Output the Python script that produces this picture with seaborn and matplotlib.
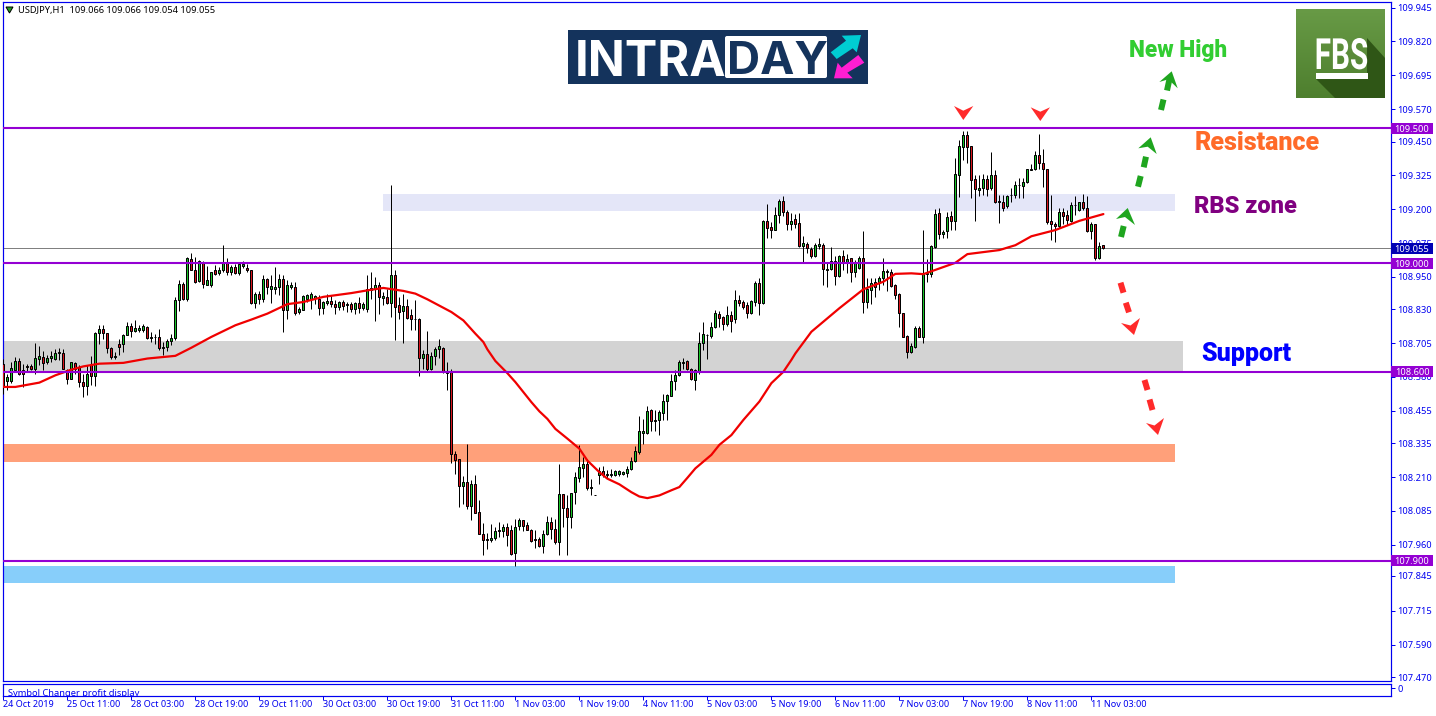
"""USDJPY H1 chart with support / resistance zones, redrawn with seaborn and matplotlib."""
import numpy as np
import pandas as pd
import matplotlib
matplotlib.use("Agg")
import matplotlib.pyplot as plt
from matplotlib.patches import Polygon, Rectangle, FancyBboxPatch
from matplotlib.patheffects import AbstractPathEffect
from matplotlib.transforms import Affine2D
import seaborn as sns

# --- Data ---
opens = [
    108.629,108.565,108.565,108.607,108.638,108.607,108.621,108.619,108.609,108.646,
    108.654,108.634,108.651,108.648,108.669,108.670,108.607,108.574,108.633,108.617,
    108.561,108.547,108.623,108.585,108.743,108.759,108.743,108.688,108.654,108.703,
    108.702,108.736,108.770,108.750,108.752,108.755,108.766,108.725,108.727,108.728,
    108.688,108.691,108.713,108.724,108.863,108.925,108.867,109.017,108.977,108.935,
    109.005,108.921,108.921,108.974,108.964,108.977,109.006,108.968,108.986,108.964,
    108.989,108.984,108.977,108.853,108.888,108.869,108.943,108.905,108.906,108.913,
    108.943,108.826,108.913,108.913,108.820,108.829,108.869,108.869,108.872,108.869,
    108.836,108.853,108.861,108.849,108.839,108.856,108.846,108.849,108.831,108.853,
    108.834,108.831,108.900,108.906,108.919,108.873,108.876,108.853,108.956,108.845,
    108.823,108.844,108.808,108.795,108.795,108.651,108.666,108.611,108.658,108.683,
    108.688,108.598,108.597,108.296,108.278,108.177,108.193,108.103,108.185,108.082,
    108.000,107.980,107.976,107.986,108.013,108.009,108.027,108.013,107.929,108.029,
    108.050,108.031,108.015,107.980,107.982,107.955,108.000,108.044,108.019,107.970,
    108.146,108.095,108.062,108.154,108.206,108.244,108.260,108.170,108.145,108.219,
    108.232,108.216,108.216,108.216,108.220,108.220,108.225,108.238,108.271,108.302,
    108.373,108.373,108.456,108.417,108.422,108.446,108.492,108.511,108.565,108.587,
    108.632,108.639,108.609,108.570,108.598,108.707,108.734,108.731,108.766,108.811,
    108.800,108.774,108.809,108.793,108.863,108.856,108.845,108.818,108.857,108.926,
    108.852,109.158,109.136,109.124,109.180,109.229,109.189,109.145,109.163,109.148,
    109.065,109.070,109.054,109.028,109.065,109.068,108.977,108.978,109.009,108.954,
    109.026,109.006,109.018,108.967,108.981,109.018,108.858,108.901,108.932,108.932,
    108.944,108.968,108.967,108.920,108.885,108.815,108.731,108.673,108.692,108.760,
    108.729,108.959,108.961,109.062,109.185,109.109,109.120,109.174,109.157,109.327,
    109.431,109.474,109.433,109.310,109.270,109.279,109.313,109.277,109.328,109.227,
    109.225,109.211,109.251,109.254,109.288,109.285,109.301,109.344,109.347,109.400,
    109.369,109.347,109.155,109.147,109.139,109.188,109.178,109.157,109.214,109.196,
    109.227,109.206,109.120,109.145,109.020,109.066,
]
highs = [
    108.648,108.592,108.635,108.654,108.650,108.629,108.626,108.629,108.706,108.693,
    108.676,108.660,108.676,108.685,108.688,108.685,108.611,108.635,108.635,108.623,
    108.592,108.623,108.658,108.746,108.773,108.771,108.743,108.691,108.672,108.722,
    108.738,108.783,108.780,108.789,108.771,108.777,108.767,108.746,108.740,108.759,
    108.709,108.722,108.738,108.876,108.937,108.931,109.023,109.039,109.023,109.011,
    109.009,108.989,108.968,108.993,108.986,109.067,109.021,108.993,108.999,108.999,
    109.009,108.999,108.977,108.894,108.898,108.956,108.947,108.956,108.986,108.962,
    108.956,108.937,108.931,108.931,108.839,108.882,108.888,108.894,108.882,108.882,
    108.861,108.888,108.882,108.863,108.861,108.863,108.856,108.857,108.857,108.876,
    108.857,108.956,108.968,108.950,108.931,108.894,108.906,109.290,108.977,108.876,
    108.888,108.869,108.832,108.863,108.799,108.678,108.750,108.672,108.691,108.722,
    108.691,108.635,108.610,108.308,108.278,108.212,108.331,108.198,108.219,108.124,
    108.041,108.004,108.035,108.025,108.043,108.035,108.040,108.031,108.056,108.059,
    108.052,108.043,108.019,108.013,107.988,108.013,108.066,108.062,108.056,108.257,
    108.146,108.142,108.152,108.228,108.327,108.284,108.278,108.204,108.145,108.247,
    108.249,108.235,108.241,108.235,108.237,108.231,108.249,108.284,108.323,108.434,
    108.425,108.472,108.462,108.456,108.456,108.518,108.518,108.592,108.604,108.644,
    108.651,108.641,108.612,108.609,108.747,108.782,108.738,108.784,108.827,108.825,
    108.805,108.842,108.825,108.900,108.883,108.864,108.858,108.864,108.935,108.945,
    109.160,109.219,109.154,109.207,109.237,109.249,109.197,109.185,109.182,109.187,
    109.101,109.080,109.062,109.074,109.092,109.074,109.002,109.059,109.027,109.031,
    109.049,109.034,109.018,109.012,109.027,109.119,108.945,108.945,108.947,108.953,
    109.018,108.978,108.978,108.924,108.889,108.815,108.735,108.704,108.768,108.768,
    109.123,109.015,109.068,109.200,109.203,109.123,109.190,109.193,109.390,109.455,
    109.490,109.490,109.433,109.326,109.326,109.332,109.326,109.412,109.344,109.252,
    109.252,109.252,109.277,109.305,109.317,109.317,109.350,109.366,109.415,109.477,
    109.421,109.347,109.254,109.153,109.203,109.206,109.196,109.227,109.248,109.227,
    109.258,109.248,109.151,109.147,109.079,109.066,
]
lows = [
    108.518,108.531,108.558,108.598,108.586,108.543,108.598,108.605,108.592,108.623,
    108.605,108.627,108.635,108.644,108.642,108.611,108.553,108.571,108.592,108.543,
    108.506,108.512,108.549,108.545,108.703,108.722,108.669,108.648,108.648,108.660,
    108.672,108.734,108.728,108.746,108.746,108.746,108.722,108.709,108.703,108.681,
    108.660,108.676,108.697,108.715,108.824,108.863,108.861,108.974,108.927,108.931,
    108.910,108.919,108.913,108.956,108.956,108.968,108.956,108.956,108.959,108.956,
    108.984,108.968,108.849,108.836,108.851,108.857,108.888,108.853,108.888,108.882,
    108.746,108.795,108.906,108.808,108.814,108.826,108.857,108.832,108.851,108.808,
    108.814,108.845,108.839,108.814,108.826,108.826,108.820,108.820,108.814,108.816,
    108.826,108.820,108.869,108.787,108.814,108.845,108.849,108.802,108.715,108.795,
    108.706,108.795,108.755,108.752,108.582,108.611,108.598,108.607,108.623,108.651,
    108.595,108.531,108.262,108.222,108.099,108.111,108.093,108.050,108.077,107.998,
    107.920,107.943,107.970,107.976,107.988,107.988,107.954,107.920,107.880,108.013,
    108.010,108.013,107.970,107.949,107.951,107.929,107.997,107.982,107.964,107.920,
    108.025,107.920,108.021,108.111,108.191,108.210,108.161,108.142,108.145,108.183,
    108.210,108.207,108.210,108.212,108.212,108.216,108.210,108.235,108.265,108.296,
    108.331,108.370,108.382,108.382,108.364,108.419,108.419,108.508,108.530,108.582,
    108.610,108.604,108.570,108.530,108.592,108.680,108.646,108.723,108.760,108.766,
    108.754,108.770,108.747,108.778,108.842,108.830,108.799,108.813,108.842,108.809,
    108.850,109.095,109.092,109.123,109.150,109.176,109.123,109.123,109.129,109.062,
    109.002,109.037,109.018,109.022,109.052,108.920,108.911,108.975,108.920,108.951,
    108.975,108.963,108.932,108.951,108.978,108.818,108.836,108.850,108.877,108.901,
    108.920,108.899,108.914,108.867,108.766,108.727,108.651,108.670,108.688,108.727,
    108.704,108.932,108.951,109.055,109.089,109.092,109.094,109.123,109.123,109.246,
    109.381,109.371,109.242,109.157,109.248,109.252,109.248,109.270,109.224,109.150,
    109.193,109.206,109.227,109.243,109.240,109.240,109.297,109.344,109.344,109.350,
    109.283,109.144,109.088,109.078,109.129,109.144,109.141,109.153,109.178,109.194,
    109.196,109.116,109.089,109.012,109.015,109.054,
]
closes = [
    108.543,108.580,108.614,108.639,108.590,108.592,108.617,108.609,108.651,108.656,
    108.632,108.651,108.656,108.670,108.671,108.611,108.574,108.634,108.611,108.561,
    108.545,108.592,108.585,108.744,108.759,108.743,108.687,108.653,108.659,108.691,
    108.735,108.770,108.750,108.761,108.762,108.767,108.725,108.728,108.729,108.688,
    108.691,108.712,108.725,108.863,108.925,108.869,109.019,108.977,108.930,109.009,
    108.925,108.937,108.968,108.962,108.977,109.005,108.968,108.986,108.964,108.996,
    108.996,108.977,108.853,108.888,108.869,108.941,108.913,108.915,108.913,108.941,
    108.829,108.919,108.919,108.816,108.832,108.878,108.882,108.888,108.879,108.836,
    108.856,108.861,108.849,108.839,108.856,108.841,108.849,108.831,108.853,108.834,
    108.849,108.906,108.910,108.919,108.876,108.879,108.853,108.958,108.839,108.820,
    108.841,108.799,108.794,108.793,108.651,108.666,108.608,108.659,108.685,108.693,
    108.598,108.596,108.294,108.274,108.177,108.193,108.103,108.185,108.078,107.999,
    107.976,107.977,107.986,108.012,108.010,108.027,107.994,107.924,108.027,108.052,
    108.029,108.013,107.972,107.977,107.955,108.000,108.044,108.019,107.970,108.146,
    108.095,108.062,108.152,108.209,108.246,108.260,108.169,108.173,108.145,108.231,
    108.219,108.222,108.222,108.231,108.231,108.228,108.241,108.271,108.305,108.379,
    108.379,108.453,108.417,108.420,108.449,108.492,108.515,108.566,108.589,108.636,
    108.636,108.610,108.573,108.607,108.704,108.738,108.736,108.766,108.815,108.799,
    108.774,108.808,108.788,108.863,108.852,108.839,108.818,108.860,108.926,108.852,
    109.158,109.132,109.124,109.177,109.229,109.189,109.147,109.158,109.145,109.065,
    109.074,109.055,109.028,109.068,109.070,108.978,108.979,109.009,108.954,109.026,
    109.006,109.017,108.967,109.000,109.018,108.858,108.904,108.929,108.911,108.944,
    108.972,108.970,108.916,108.883,108.818,108.729,108.673,108.694,108.760,108.729,
    108.961,108.963,109.064,109.182,109.108,109.116,109.172,109.157,109.330,109.433,
    109.474,109.431,109.307,109.273,109.280,109.313,109.275,109.328,109.227,109.230,
    109.205,109.249,109.253,109.291,109.291,109.301,109.347,109.347,109.400,109.369,
    109.347,109.153,109.145,109.139,109.188,109.174,109.160,109.214,109.217,109.225,
    109.205,109.119,109.144,109.020,109.063,109.055,
]

# red moving average: candle index and price
ma_index = [0, 3, 9, 13, 17, 20, 24, 30, 36, 43, 47, 52, 58, 62, 66, 71, 75, 80, 87, 91, 95,
            100, 103, 106, 112, 115, 118, 120, 121, 123, 126, 128, 130, 132, 134, 136, 138,
            141, 144, 146, 149, 151, 154, 157, 159, 161, 164, 167, 169, 171, 173, 177, 179,
            182, 185, 189, 192, 195, 197, 198, 202, 209, 215, 220, 223, 227, 230, 234, 238,
            241, 249, 253, 257, 263, 269, 275]
ma_price = [108.543, 108.543, 108.559, 108.586, 108.607, 108.619, 108.629, 108.632, 108.648,
            108.658, 108.688, 108.728, 108.771, 108.792, 108.814, 108.849, 108.857, 108.876,
            108.890, 108.900, 108.909, 108.898, 108.888, 108.867, 108.820, 108.789, 108.740,
            108.709, 108.682, 108.639, 108.594, 108.561, 108.524, 108.487, 108.453, 108.425,
            108.388, 108.352, 108.315, 108.271, 108.228, 108.204, 108.183, 108.154, 108.138,
            108.132, 108.142, 108.161, 108.173, 108.207, 108.242, 108.292, 108.329, 108.365,
            108.421, 108.489, 108.557, 108.599, 108.643, 108.667, 108.747, 108.834, 108.904,
            108.932, 108.961, 108.963, 108.960, 108.981, 109.002, 109.034, 109.049, 109.067,
            109.100, 109.123, 109.157, 109.182]

y_ticks = [109.945, 109.820, 109.695, 109.570, 109.450, 109.325, 109.200, 109.075, 108.950,
           108.830, 108.705, 108.580, 108.455, 108.335, 108.210, 108.085, 107.960, 107.845,
           107.715, 107.590, 107.470]
date_labels = ["24 Oct 2019", "25 Oct 11:00", "28 Oct 03:00", "28 Oct 19:00", "29 Oct 11:00",
               "30 Oct 03:00", "30 Oct 19:00", "31 Oct 11:00", "1 Nov 03:00", "1 Nov 19:00",
               "4 Nov 11:00", "5 Nov 03:00", "5 Nov 19:00", "6 Nov 11:00", "7 Nov 03:00",
               "7 Nov 19:00", "8 Nov 11:00", "11 Nov 03:00"]
date_positions = list(range(0, 288, 16))

level_prices = [109.500, 109.000, 108.600, 107.900]
last_price = 109.055

band_lows = [109.193, 108.600, 108.266, 107.819]
band_highs = [109.256, 108.713, 108.332, 107.881]
band_starts = [94.9, -0.2, -0.2, -0.2]
band_ends = [292.9, 294.9, 292.9, 292.9]
band_colors = ["#E4E6F8", "#D3D3D3", "#FFA07A", "#87CEFA"]

# --- Styling ---
W, H = 1436, 716
BLUE = "#0000F0"
PURPLE = "#9400D3"
PX = 0.72  # one pixel in points at dpi 100
TICK_FONT = "Noto Sans"
ANNOT_FONT = "Roboto"


class SqueezeX(AbstractPathEffect):
    """Narrow a text around a fixed pixel column, the FBS badge uses a condensed face."""

    def __init__(self, factor, centre):
        super().__init__()
        self.factor = factor
        self.centre = centre

    def draw_path(self, renderer, gc, tpath, affine, rgbFace=None):
        squeeze = Affine2D().translate(-self.centre, 0).scale(self.factor, 1).translate(self.centre, 0)
        renderer.draw_path(gc, tpath, affine + squeeze, rgbFace)


def draw_candles(ax):
    df = pd.DataFrame({"idx": range(len(opens)), "open": opens, "high": highs,
                       "low": lows, "close": closes})
    df["bottom"] = df[["open", "close"]].min(axis=1)
    df["height"] = (df["close"] - df["open"]).abs()
    df["color"] = np.where(df["close"] >= df["open"], "#18C428", "#D8141C")
    wicks = ax.vlines(df["idx"], df["low"], df["high"], color="black", linewidth=PX, zorder=3)
    wicks.set_snap(True)
    bars = ax.bar(df["idx"], df["height"], bottom=df["bottom"], width=0.5, color=df["color"],
                  edgecolor="black", linewidth=PX, zorder=3.1)
    for bar in bars:
        bar.set_snap(True)


def draw_price_tag(ax, price, color):
    tag = Rectangle((1.0003, price - 5.5 / 270.6), 42 / 1388.5, 11 / 270.6, facecolor=color,
                    edgecolor="none", transform=ax.get_yaxis_transform(), clip_on=False, zorder=6)
    ax.add_patch(tag)
    ax.text(1.0 + 21 / 1388.5, price, f"{price:.3f}", color="white", fontsize=6.7, family=TICK_FONT,
            ha="center", va="center_baseline", transform=ax.get_yaxis_transform(), clip_on=False, zorder=7)


def draw_dashed_arrow(ov, dashes, head, color):
    for (x0, y0), (x1, y1) in dashes:
        ov.plot([x0, x1], [y0, y1], color=color, linewidth=4.3, solid_capstyle="butt")
    ov.add_patch(Polygon(head, closed=True, facecolor=color, edgecolor="none"))


def draw_logos(ov):
    # INTRADAY banner
    ov.add_patch(Rectangle((568, 30), 300, 54, facecolor="#14335C", edgecolor="none"))
    ov.text(575, 57.5, "INTRA", color="white", fontsize=35, fontweight="bold", family="Inter",
            ha="left", va="center_baseline")
    ov.add_patch(FancyBboxPatch((727, 38), 98, 38, boxstyle="round,pad=2,rounding_size=2",
                                facecolor="white", edgecolor="none"))
    ov.text(777, 57.5, "DAY", color="#14335C", fontsize=33, fontweight="bold", family="Inter",
            ha="center", va="center_baseline")
    ov.add_patch(Polygon([(861, 35), (841.7, 35.7), (846, 40.7), (830.7, 52.3), (836.7, 59),
                          (852.7, 48.3), (856.7, 52.3)], facecolor="#00CDD2", edgecolor="none"))
    ov.add_patch(Polygon([(834, 78.3), (852.7, 78.3), (847.3, 72.7), (864.3, 62.7), (858.3, 55),
                          (841.7, 67.7), (837.7, 62.7)], facecolor="#FF1ED2", edgecolor="none"))

    # FBS badge
    gradient = np.linspace(0, 1, 64).reshape(-1, 1)
    cmap = matplotlib.colors.LinearSegmentedColormap.from_list("fbs", ["#689A46", "#4E7F2E"])
    ov.imshow(gradient, extent=(1296, 1385, 98, 9), cmap=cmap, aspect="auto", zorder=1)
    ov.add_patch(Polygon([(1316, 79), (1335, 98), (1385, 98), (1385, 58), (1367, 38), (1367, 73)],
                         facecolor="#2F5616", edgecolor="none", zorder=1.5))
    ov.text(1341.5, 53, "FBS", color="white", fontsize=31, fontweight="bold", family=ANNOT_FONT,
            ha="center", va="center_baseline", zorder=2, path_effects=[SqueezeX(0.69, 1341.5)])
    ov.add_patch(Rectangle((1316, 73), 52, 6, facecolor="white", edgecolor="none", zorder=2))
    ov.set_xlim(0, W)
    ov.set_ylim(H, 0)


def draw_overlay(fig):
    ov = fig.add_axes([0, 0, 1, 1], facecolor="none", zorder=10)
    ov.set_axis_off()
    draw_logos(ov)

    ov.text(1178.5, 48.5, "New High", color="#32CD32", fontsize=16.3, fontweight="black", family=ANNOT_FONT,
            ha="center", va="center_baseline")
    ov.text(1257.5, 141, "Resistance", color="#FF6A28", fontsize=18, fontweight="black", family=ANNOT_FONT,
            ha="center", va="center_baseline")
    ov.text(1245.5, 204, "RBS zone", color="#800080", fontsize=17, fontweight="black", family=ANNOT_FONT,
            ha="center", va="center_baseline")
    ov.text(1246.5, 352, "Support", color="#0000FF", fontsize=18, fontweight="black", family=ANNOT_FONT,
            ha="center", va="center_baseline")

    green = "#1FA51F"
    red = "#FF2A2A"
    draw_dashed_arrow(ov, [((1123.7, 226), (1121, 237))],
                      [(1127.7, 208), (1116, 219), (1125, 217), (1135, 225)], green)
    draw_dashed_arrow(ov, [((1140.7, 176), (1138, 186.7)), ((1146, 156.7), (1143.7, 167.3))],
                      [(1150.7, 137.3), (1138.3, 148.3), (1147.7, 146.7), (1156.7, 154)], green)
    draw_dashed_arrow(ov, [((1163.5, 99.5), (1161, 110)), ((1169.5, 79), (1167, 90.5))],
                      [(1171.7, 71.3), (1159.3, 82), (1168.3, 79.3), (1177.7, 88.3)], green)
    draw_dashed_arrow(ov, [((1120.5, 282.7), (1123.5, 292.7)), ((1125.8, 302.7), (1129, 312.3))],
                      [(1134, 335), (1121, 323), (1130.5, 325.5), (1140, 318)], red)
    draw_dashed_arrow(ov, [((1144.5, 380), (1147.5, 390)), ((1149.5, 399.5), (1152.5, 410))],
                      [(1158, 435), (1146, 423), (1154.5, 425.5), (1164, 418)], red)

    for pts in ([(954, 106), (963.3, 110.7), (973.3, 106), (963.3, 120)],
                [(1030.7, 107.3), (1040.3, 111.7), (1050, 107.3), (1040.3, 121)]):
        ov.add_patch(Polygon(pts, facecolor="#FF2A2A", edgecolor="none"))

    ov.add_patch(Polygon([(6, 7), (13, 7), (9.5, 13)], facecolor="#20A020", edgecolor="black", linewidth=PX))
    ov.text(18, 10, "USDJPY,H1  109.066 109.066 109.054 109.055", color="black", fontsize=6.7,
            family=TICK_FONT, ha="left", va="center_baseline")


def main():
    sns.set_theme(style="white")
    plt.rcParams["font.family"] = [TICK_FONT, "DejaVu Sans"]
    fig = plt.figure(figsize=(W / 100, H / 100), dpi=100, facecolor="white")

    ax = fig.add_axes([2.5 / W, 1 - 681 / H, (1391 - 2.5) / W, (681 - 2) / H])
    ax.set_xlim(-0.21, 346.9)
    ax.set_ylim(107.456, 109.966)

    for lo, hi, x0, x1, col in zip(band_lows, band_highs, band_starts, band_ends, band_colors):
        ax.fill_between([x0, x1], lo, hi, color=col, linewidth=0, zorder=1)

    ax.axhline(last_price, color="#808080", linewidth=PX, zorder=1.5)
    draw_candles(ax)

    ma = pd.DataFrame({"idx": ma_index, "price": ma_price})
    sns.lineplot(data=ma, x="idx", y="price", color="#F00000", linewidth=1.6, ax=ax, zorder=4, errorbar=None)

    for level in level_prices:
        ax.axhline(level, color=PURPLE, linewidth=1.5, zorder=5)

    ax.set_xlabel("")
    ax.set_ylabel("")
    ax.yaxis.tick_right()
    ax.set_yticks(y_ticks)
    ax.set_yticklabels([f"{t:.3f}" for t in y_ticks], fontsize=6.7, color=BLUE, family=TICK_FONT)
    ax.tick_params(axis="y", length=3, width=PX, color=BLUE, pad=1.5, right=True)
    ax.set_xticks([])
    for spine in ax.spines.values():
        spine.set_color(BLUE)
        spine.set_linewidth(PX * 1.2)

    draw_price_tag(ax, level_prices[0], PURPLE)
    draw_price_tag(ax, last_price, "#0000B4")
    draw_price_tag(ax, level_prices[1], PURPLE)
    draw_price_tag(ax, level_prices[2], PURPLE)
    draw_price_tag(ax, level_prices[3], PURPLE)

    # indicator sub window below the prices
    sub = fig.add_axes([2.5 / W, 1 - 696 / H, (1391 - 2.5) / W, (696 - 684) / H])
    sub.set_xlim(-0.21, 346.9)
    sub.set_ylim(0, 1)
    sub.set_yticks([0.65])
    sub.set_yticklabels(["0"], fontsize=6.7, color=BLUE, family=TICK_FONT)
    sub.yaxis.tick_right()
    sub.tick_params(axis="y", length=3, width=PX, color=BLUE, pad=1.5, right=True)
    sub.set_xticks(date_positions)
    sub.set_xticklabels(date_labels, fontsize=6.5, color=BLUE, family=TICK_FONT, ha="left")
    sub.tick_params(axis="x", length=3, width=PX, color=BLUE, pad=0.2, bottom=True)
    for spine in sub.spines.values():
        spine.set_color(BLUE)
        spine.set_linewidth(PX * 1.2)
    sub.text(5 / 1388.5, 0.25, "Symbol Changer profit display", color=BLUE, fontsize=6.7, family=TICK_FONT,
             transform=sub.transAxes, ha="left", va="center_baseline", clip_on=True)

    draw_overlay(fig)

    fig.savefig("out.png", dpi=100)
    print("Plot saved to 'out.png'")


if __name__ == "__main__":
    main()
